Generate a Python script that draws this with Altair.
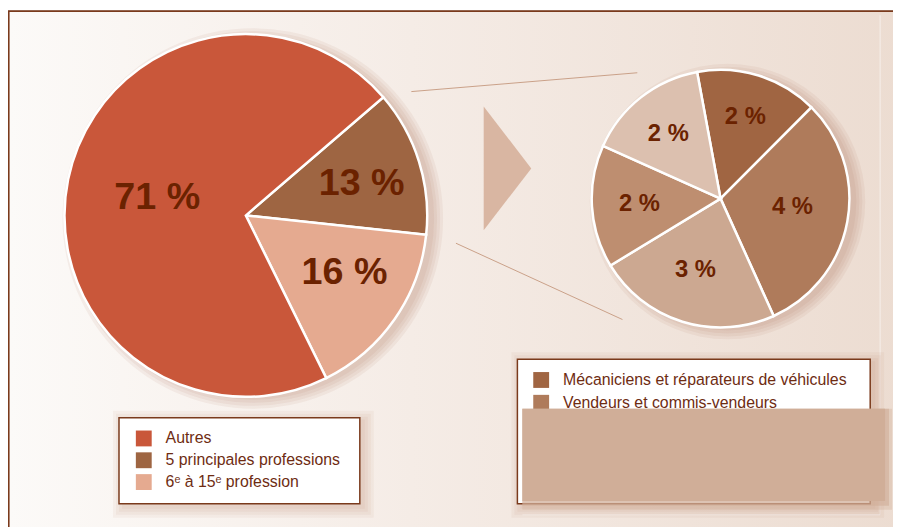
import math
import altair as alt
import pandas as pd

# ---------------- data ----------------
left_categories = ["5 principales professions", "6ᵉ à 15ᵉ profession", "Autres"]
left_values = [13, 16, 71]
left_labels = ["13 %", "16 %", "71 %"]
left_colors = ["#9E6542", "#E5AA90", "#C9573A"]

left_legend_order = ["Autres", "5 principales professions", "6ᵉ à 15ᵉ profession"]

right_categories = ["Mécaniciens et réparateurs de véhicules", "Vendeurs et commis-vendeurs",
                    "Profession 3", "Profession 4", "Profession 5"]
right_values = [2, 4, 3, 2, 2]
right_labels = ["2 %", "4 %", "3 %", "2 %", "2 %"]
right_colors = ["#A06542", "#AF7B5B", "#CCA891", "#BE8E70", "#DCC0AF"]
right_legend_visible = ["Mécaniciens et réparateurs de véhicules", "Vendeurs et commis-vendeurs"]

# ---------------- layout ----------------
W, H = 893, 519
FONT = "Liberation Sans, Arial, Helvetica, sans-serif"
TXT = "#6B2200"
LEG_TXT = "#6E2C12"
FRAME = "#7A3A1C"
TWO_PI = 2 * math.pi

LCX, LCY, LR = 240, 207, 183
RCX, RCY, RR = 719, 190, 130
left_start = math.radians(49.3)
right_start = math.radians(349.5)
# label placement (radius in px, angular nudge in degrees)
left_label_r = [121, 115, 91]
left_label_dt = [2.3, -4.8, -0.7]
right_label_r = [86, 73, 76, 82, 84]
right_label_dt = [-0.3, -3.2, 2.3, 0.0, -0.7]

one = pd.DataFrame({"a": [0]})

# background + frame
bg = alt.Chart(one).mark_rect(
    fill=alt.LinearGradient(
        gradient="linear", x1=0, x2=1, y1=0, y2=0,
        stops=[alt.GradientStop(offset=0, color="#FCFAF8"),
               alt.GradientStop(offset=0.45, color="#F5ECE6"),
               alt.GradientStop(offset=1, color="#ECDCD1")]),
    stroke=FRAME, strokeWidth=1.6,
).encode(x=alt.value(0.8), x2=alt.value(W + 10), y=alt.value(0.8), y2=alt.value(H + 10))

# faint inner outline on the right-hand side
edge_df = pd.DataFrame({"x": [880, 519], "y": [5, 509], "x2": [880, 880], "y2": [509, 509]})
edges = alt.Chart(edge_df).mark_rule(color="white", strokeWidth=1, opacity=0.55).encode(
    x=alt.X("x:Q", scale=None, axis=None), y=alt.Y("y:Q", scale=None, axis=None),
    x2="x2:Q", y2="y2:Q")

# connector lines
conn_df = pd.DataFrame({"x": [407, 452], "y": [82, 235], "x2": [635, 620], "y2": [63, 312]})
conn = alt.Chart(conn_df).mark_rule(color="#C9A088", strokeWidth=1).encode(
    x=alt.X("x:Q", scale=None, axis=None), y=alt.Y("y:Q", scale=None, axis=None),
    x2="x2:Q", y2="y2:Q")

# triangle arrow
tri = alt.Chart(one).mark_point(
    shape="M-0.384,-1L0.384,0L-0.384,1Z", filled=True, fill="#D9B6A2", opacity=1,
    strokeWidth=0, size=125 * 125,
).encode(x=alt.value(504), y=alt.value(159.5))

# pie shadows (soft rings drawn as circles)
def shadow(cx, cy, r):
    df = pd.DataFrame({"s": [(2 * (r + e)) ** 2 for e in [0, 3, 6, 9]]})
    return alt.Chart(df).mark_point(shape="circle", filled=True, color="#A86A48",
                                    opacity=0.08, strokeWidth=0).encode(
        x=alt.value(cx), y=alt.value(cy), size=alt.Size("s:Q", scale=None, legend=None))

left_df = pd.DataFrame({"cat": left_categories, "value": left_values, "label": left_labels,
                        "idx": range(3), "lr": left_label_r, "dt": left_label_dt})
right_df = pd.DataFrame({"cat": right_categories, "value": right_values, "label": right_labels,
                         "idx": range(5), "lr": right_label_r, "dt": right_label_dt})

def pie(df, cx, cy, r, start, colors, cats, fsize):
    arcs = alt.Chart(df).mark_arc(stroke="white", strokeWidth=2.5).encode(
        theta=alt.Theta("value:Q", stack=True, scale=alt.Scale(range=[start, start + TWO_PI])),
        order=alt.Order("idx:Q"),
        color=alt.Color("cat:N", scale=alt.Scale(domain=cats, range=colors), legend=None),
        x=alt.value(cx), y=alt.value(cy), radius=alt.value(r))
    total = float(df["value"].sum())
    text = alt.Chart(df).transform_window(
        cum="sum(value)", sort=[alt.SortField("idx")], frame=[None, 0]
    ).transform_calculate(
        mid=f"datum.cum - datum.value / 2 + datum.dt * {total} / 360"
    ).mark_text(
        font=FONT, fontWeight="bold", fontSize=fsize, color=TXT,
        align="center", baseline="middle",
    ).encode(
        theta=alt.Theta("mid:Q", stack=None,
                        scale=alt.Scale(domain=[0, total], range=[start, start + TWO_PI])),
        radius=alt.Radius("lr:Q", scale=None, stack=None),
        x=alt.value(cx), y=alt.value(cy), text="label:N")
    return arcs, text

l_arcs, l_text = pie(left_df, LCX, LCY, LR, left_start, left_colors, left_categories, 38)
r_arcs, r_text = pie(right_df, RCX, RCY, RR, right_start, right_colors, right_categories, 24)

# legend boxes with shadows
def box_shadow(x, y, x2, y2):
    rows = []
    for e in [1, 4, 7, 10]:
        rows.append({"x": x + 4 - e, "y": y + 3 - e, "x2": x2 + 4 + e, "y2": y2 + 4 + e})
    df = pd.DataFrame(rows)
    return alt.Chart(df).mark_rect(color="#A86A48", opacity=0.06).encode(
        x=alt.X("x:Q", scale=None, axis=None), y=alt.Y("y:Q", scale=None, axis=None),
        x2="x2:Q", y2="y2:Q")

def box(x, y, x2, y2):
    return alt.Chart(one).mark_rect(fill="white", stroke=FRAME, strokeWidth=1.5).encode(
        x=alt.value(x), x2=alt.value(x2), y=alt.value(y), y2=alt.value(y2))

def legend_entries(cats, colors, x0, y0, step):
    df = pd.DataFrame({"cat": cats, "yc": [y0 + i * step for i in range(len(cats))]})
    df["top"] = df["yc"] - 8
    df["bot"] = df["yc"] + 8
    sw = alt.Chart(df).mark_rect().encode(
        x=alt.value(x0), x2=alt.value(x0 + 16),
        y=alt.Y("top:Q", scale=None, axis=None), y2="bot:Q",
        color=alt.Color("cat:N", scale=alt.Scale(domain=cats, range=colors), legend=None))
    tx = alt.Chart(df).mark_text(font=FONT, fontSize=16, color=LEG_TXT, align="left",
                                 baseline="middle").encode(
        x=alt.value(x0 + 30), y=alt.Y("yc:Q", scale=None, axis=None), text="cat:N")
    return sw, tx

ll_colors = [left_colors[left_categories.index(c)] for c in left_legend_order]
l_sw, l_tx = legend_entries(left_legend_order, ll_colors, 129, 432, 22)
r_sw, r_tx = legend_entries(right_legend_visible, right_colors[:2], 530, 373, 23)

# soft blurred panel over the right legend
blur_rows = [
    {"x": 519, "y": 402, "x2": 892, "y2": 504, "o": 0.35},
    {"x": 519, "y": 402, "x2": 889, "y2": 500, "o": 0.6},
    {"x": 519, "y": 402, "x2": 885, "y2": 495, "o": 1.0},
]
blur = alt.Chart(pd.DataFrame(blur_rows)).mark_rect(color="#D0AE98").encode(
    x=alt.X("x:Q", scale=None, axis=None), y=alt.Y("y:Q", scale=None, axis=None),
    x2="x2:Q", y2="y2:Q", opacity=alt.Opacity("o:Q", scale=None, legend=None))

chart = alt.layer(
    bg, edges, conn, tri,
    shadow(LCX + 7, LCY + 3, LR), shadow(RCX + 7, RCY + 3, RR),
    l_arcs, r_arcs, l_text, r_text,
    box_shadow(112, 411, 355, 498), box(112, 411, 355, 498), l_sw, l_tx,
    box_shadow(514, 352, 870, 498), box(514, 352, 870, 498), r_sw, r_tx,
    blur,
).resolve_scale(theta="independent", color="independent").properties(
    width=W, height=H, padding=0, autosize=alt.AutoSizeParams(type="none"),
).configure_view(stroke=None).configure(background="white")

chart.save("out.html", embed_options={"renderer": "svg", "actions": False})
